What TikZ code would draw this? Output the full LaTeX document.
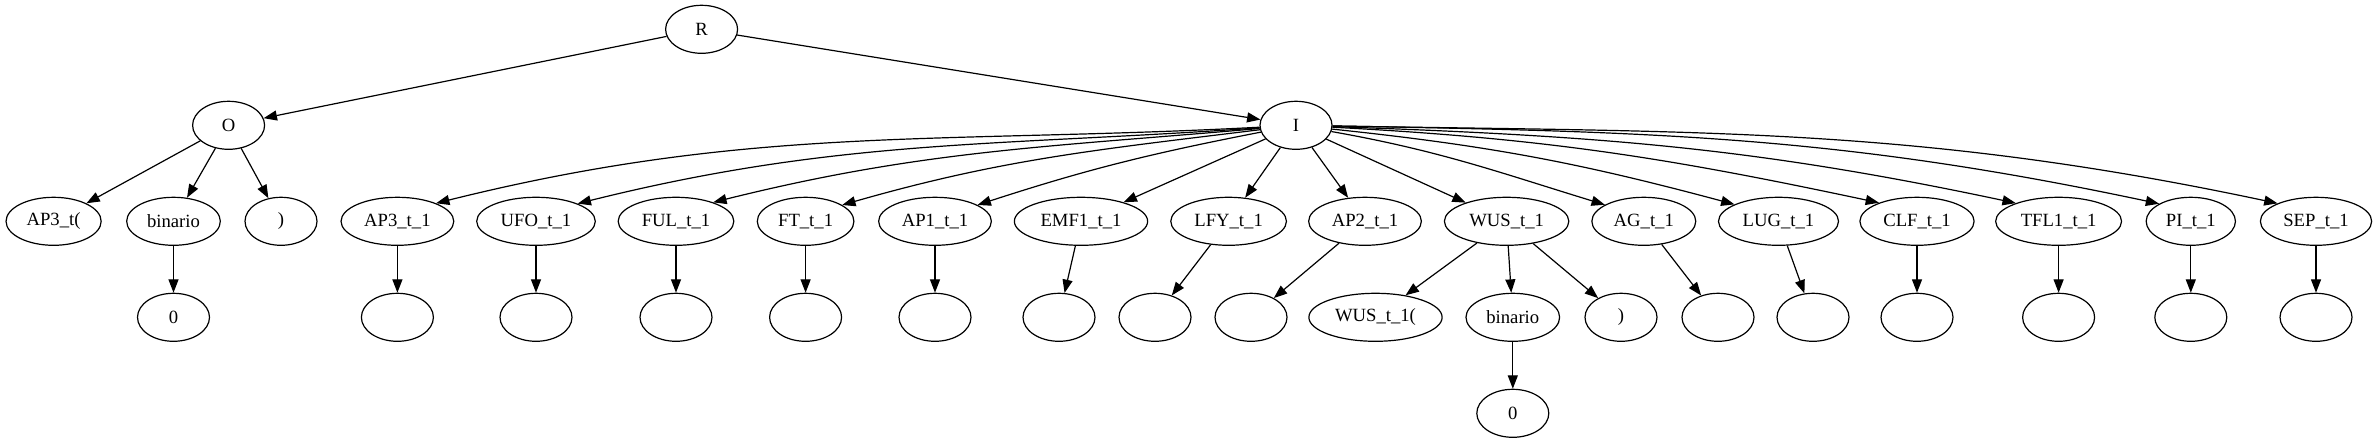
\documentclass[tikz,border=0pt]{standalone}
\usepackage{fontspec}
\setmainfont{Liberation Serif}
\usetikzlibrary{shapes.geometric,arrows.meta}
\begin{document}
\begin{tikzpicture}[x=0.75pt,y=0.75pt]
  \tikzset{
    nd/.style={ellipse,draw,line width=0.9pt,minimum width=54pt,minimum height=36pt,
      inner xsep=5pt,inner ysep=3pt,font=\fontsize{14}{16}\selectfont},
    ed/.style={line width=0.9pt,-{Triangle[length=10pt,width=7.5pt]}}
  }
  \useasboundingbox (0,0) rectangle (2377,443);
  %LEVEL 0
  \node[nd] (R) at (701.6,413.7) {R};
  %LEVEL 1
  \node[nd] (O) at (228.6,317.7) {O};
  \node[nd] (I) at (1296,317.7) {I};
  \draw[ed] (R) -- (O);
  \draw[ed] (R) -- (I);
  %LEVEL 2 UNDER O
  \node[nd] (ap3o) at (53.6,221.7) {AP3\_t(};
  \node[nd] (binO) at (173.5,221.7) {binario};
  \node[nd] (cloO) at (281,221.7) {)};
  \draw[ed] (O) -- (ap3o);
  \draw[ed] (O) -- (binO);
  \draw[ed] (O) -- (cloO);
  \node[nd] (zeroO) at (173.5,125.7) {0};
  \draw[ed] (binO) -- (zeroO);
  %LEVEL 2 UNDER I
  \node[nd] (ap3) at (397.4,221.7) {AP3\_t\_1};
  \node[nd] (ufo) at (536,221.7) {UFO\_t\_1};
  \node[nd] (ful) at (676,221.7) {FUL\_t\_1};
  \node[nd] (ft) at (805.6,221.7) {FT\_t\_1};
  \node[nd] (ap1) at (935,221.7) {AP1\_t\_1};
  \node[nd] (emf) at (1081,221.7) {EMF1\_t\_1};
  \node[nd] (lfy) at (1228.6,221.7) {LFY\_t\_1};
  \node[nd] (ap2) at (1365,221.7) {AP2\_t\_1};
  \node[nd] (wus) at (1506.6,221.7) {WUS\_t\_1};
  \node[nd] (ag) at (1643.8,221.7) {AG\_t\_1};
  \node[nd] (lug) at (1778.5,221.7) {LUG\_t\_1};
  \node[nd] (clf) at (1917,221.7) {CLF\_t\_1};
  \node[nd] (tfl) at (2058.6,221.7) {TFL1\_t\_1};
  \node[nd] (pi) at (2190.8,221.7) {PI\_t\_1};
  \node[nd] (sep) at (2316,221.7) {SEP\_t\_1};
  % curved edges out of I: child/out/in/anchor
  \foreach \c/\o/\i/\a in {ap3/183/14/25,ufo/184/14/23,ful/185/14/27,ft/187/16/24,ap1/191/18/21,
                           ag/350/163/157,lug/354/165/159,clf/357/168/154,tfl/358/168/157,
                           pi/359/168/151,sep/359/168/155}
    \draw[ed] (I) to[out=\o,in=\i] (\c.\a);
  \draw[ed] (I) -- (emf);
  \draw[ed] (I) -- (lfy);
  \draw[ed] (I) -- (ap2);
  \draw[ed] (I) -- (wus);
  %LEVEL 3
  \foreach \p/\x in {ap3/397.4,ufo/536,ful/676,ft/805.6,ap1/935,emf/1059,lfy/1155,
                     ap2/1251,ag/1718,lug/1813,clf/1917,tfl/2058.6,pi/2190.8,sep/2316}{
    \node[nd] (\p e) at (\x,125.7) {};
    \draw[ed] (\p) -- (\p e);
  }
  \node[nd] (wusa) at (1375.5,125.7) {WUS\_t\_1(};
  \node[nd] (binW) at (1512.8,125.7) {binario};
  \node[nd] (cloW) at (1621,125.7) {)};
  \draw[ed] (wus) -- (wusa);
  \draw[ed] (wus) -- (binW);
  \draw[ed] (wus) -- (cloW);
  %LEVEL 4
  \node[nd] (zeroW) at (1512.8,29.7) {0};
  \draw[ed] (binW) -- (zeroW);
\end{tikzpicture}
\end{document}
